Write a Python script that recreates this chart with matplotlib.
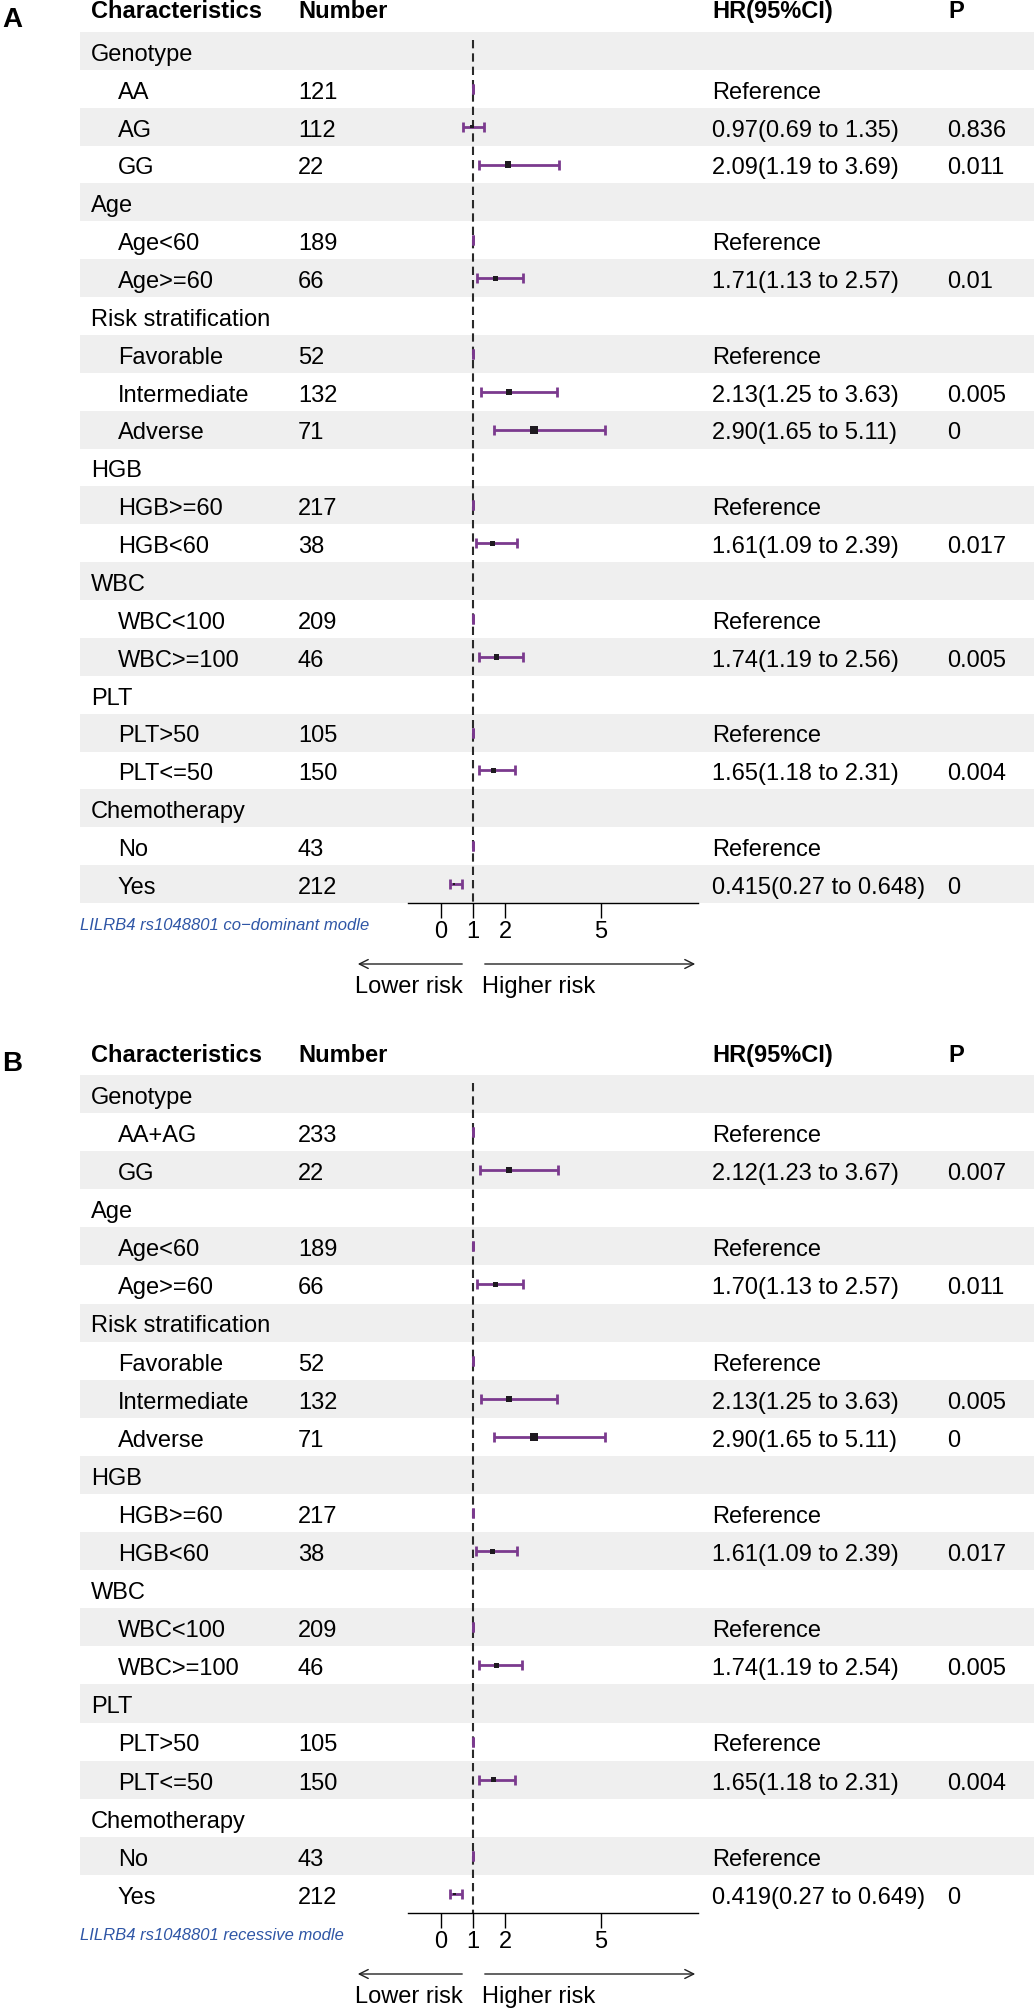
import matplotlib
matplotlib.use('Agg')
import matplotlib.pyplot as plt
import numpy as np

plt.rcParams['font.family'] = ['Liberation Sans', 'DejaVu Sans']

# ---- data: panel A (co-dominant model) ----
labels_a = ["Genotype", "AA", "AG", "GG", "Age", "Age<60", "Age>=60",
            "Risk stratification", "Favorable", "Intermediate", "Adverse",
            "HGB", "HGB>=60", "HGB<60", "WBC", "WBC<100", "WBC>=100",
            "PLT", "PLT>50", "PLT<=50", "Chemotherapy", "No", "Yes"]
number_a = ["", "121", "112", "22", "", "189", "66", "", "52", "132", "71",
            "", "217", "38", "", "209", "46", "", "105", "150", "", "43", "212"]
hr_a = [None, 1, 0.97, 2.09, None, 1, 1.71, None, 1, 2.13, 2.90,
        None, 1, 1.61, None, 1, 1.74, None, 1, 1.65, None, 1, 0.415]
lo_a = [None, 1, 0.69, 1.19, None, 1, 1.13, None, 1, 1.25, 1.65,
        None, 1, 1.09, None, 1, 1.19, None, 1, 1.18, None, 1, 0.27]
hi_a = [None, 1, 1.35, 3.69, None, 1, 2.57, None, 1, 3.63, 5.11,
        None, 1, 2.39, None, 1, 2.56, None, 1, 2.31, None, 1, 0.648]
hrtxt_a = ["", "Reference", "0.97(0.69 to 1.35)", "2.09(1.19 to 3.69)", "",
           "Reference", "1.71(1.13 to 2.57)", "", "Reference",
           "2.13(1.25 to 3.63)", "2.90(1.65 to 5.11)", "", "Reference",
           "1.61(1.09 to 2.39)", "", "Reference", "1.74(1.19 to 2.56)", "",
           "Reference", "1.65(1.18 to 2.31)", "", "Reference",
           "0.415(0.27 to 0.648)"]
p_a = ["", "", "0.836", "0.011", "", "", "0.01", "", "", "0.005", "0",
       "", "", "0.017", "", "", "0.005", "", "", "0.004", "", "", "0"]

# ---- data: panel B (recessive model) ----
labels_b = ["Genotype", "AA+AG", "GG", "Age", "Age<60", "Age>=60",
            "Risk stratification", "Favorable", "Intermediate", "Adverse",
            "HGB", "HGB>=60", "HGB<60", "WBC", "WBC<100", "WBC>=100",
            "PLT", "PLT>50", "PLT<=50", "Chemotherapy", "No", "Yes"]
number_b = ["", "233", "22", "", "189", "66", "", "52", "132", "71",
            "", "217", "38", "", "209", "46", "", "105", "150", "", "43", "212"]
hr_b = [None, 1, 2.12, None, 1, 1.70, None, 1, 2.13, 2.90,
        None, 1, 1.61, None, 1, 1.74, None, 1, 1.65, None, 1, 0.419]
lo_b = [None, 1, 1.23, None, 1, 1.13, None, 1, 1.25, 1.65,
        None, 1, 1.09, None, 1, 1.19, None, 1, 1.18, None, 1, 0.27]
hi_b = [None, 1, 3.67, None, 1, 2.57, None, 1, 3.63, 5.11,
        None, 1, 2.39, None, 1, 2.54, None, 1, 2.31, None, 1, 0.649]
hrtxt_b = ["", "Reference", "2.12(1.23 to 3.67)", "", "Reference",
           "1.70(1.13 to 2.57)", "", "Reference", "2.13(1.25 to 3.63)",
           "2.90(1.65 to 5.11)", "", "Reference", "1.61(1.09 to 2.39)", "",
           "Reference", "1.74(1.19 to 2.54)", "", "Reference",
           "1.65(1.18 to 2.31)", "", "Reference", "0.419(0.27 to 0.649)"]
p_b = ["", "", "0.007", "", "", "0.011", "", "", "0.005", "0",
       "", "", "0.017", "", "", "0.005", "", "", "0.004", "", "", "0"]

xticks = [0, 1, 2, 5]

W, H = 1034, 2010
fig = plt.figure(figsize=(W / 100, H / 100), dpi=100)

shade = '#efefef'
purple = '#7b3a8e'
blue = '#2f56a6'
fs = 17


def fy(y):
    return 1 - y / H


def box(x0, y0, x1, y1):
    return [x0 / W, 1 - y1 / H, (x1 - x0) / W, (y1 - y0) / H]


def panel(tag, head_base, top, bottom, labels, numbers, hr, lo, hi, hrtxt, pvals, note):
    n = len(labels)
    # table part
    tb = fig.add_axes(box(0, top, W, bottom))
    tb.set_xlim(0, W)
    tb.set_ylim(n - 0.5, -0.5)
    tb.axis('off')
    for i in range(0, n, 2):
        tb.axhspan(i - 0.5, i + 0.5, xmin=80 / W, xmax=1, color=shade, lw=0)
    for i in range(n):
        y = i + 0.26
        if numbers[i] == "":
            tb.text(91, y, labels[i], fontsize=fs, va='baseline')
        else:
            tb.text(118, y, labels[i], fontsize=fs, va='baseline')
            tb.text(298, y, numbers[i], fontsize=fs, va='baseline')
        tb.text(712, y, hrtxt[i], fontsize=fs, va='baseline')
        tb.text(947, y, pvals[i], fontsize=fs, va='baseline')

    # headers
    fig.text(2 / W, fy(head_base + 9), tag, fontsize=20, fontweight='bold', va='baseline')
    for x, t in [(91, "Characteristics"), (298, "Number"), (712, "HR(95%CI)"), (948, "P")]:
        fig.text(x / W, fy(head_base), t, fontsize=fs, fontweight='bold', va='baseline')

    # forest part
    ax = fig.add_axes(box(408, top, 698, bottom))
    ax.patch.set_alpha(0)
    ax.set_xlim(-1.03, 8.03)
    ax.set_ylim(n - 0.5, -0.5)
    for s in ['left', 'right', 'top']:
        ax.spines[s].set_visible(False)
    ax.spines['bottom'].set_linewidth(1.0)
    ax.set_yticks([])
    ax.set_xticks(xticks)
    ax.tick_params(axis='x', length=10.8, width=1.0, pad=2.5, labelsize=fs)

    ax.vlines(1, -0.3, n - 0.5, colors='#2a2a2a', linestyles=(0, (4.0, 2.4)), lw=1.5, zorder=1)

    rows = [i for i in range(n) if hr[i] is not None]
    h = np.array([hr[i] for i in rows])
    l = np.array([lo[i] for i in rows])
    u = np.array([hi[i] for i in rows])
    ax.errorbar(h, rows, xerr=[h - l, u - h], fmt='none', ecolor=purple,
                elinewidth=2.0, capsize=3.8, capthick=2.0, zorder=2)
    est = [k for k in range(len(rows)) if u[k] > l[k]]
    side = (2.2 * h[est] + 1.5) * 0.72
    ax.scatter(h[est], np.array(rows)[est], s=side ** 2, marker='s',
               color='#1e1a20', zorder=3, linewidths=0)

    # note and arrows below the axis
    fig.text(80 / W, fy(bottom + 27), note, fontsize=12, style='italic', color=blue, va='baseline')
    ya = fy(bottom + 61)
    fig.add_artist(matplotlib.patches.FancyArrowPatch((465 / W, ya), (355 / W, ya),
                   transform=fig.transFigure, arrowstyle='->', mutation_scale=16, lw=1.0, color='#222222'))
    fig.add_artist(matplotlib.patches.FancyArrowPatch((482 / W, ya), (698 / W, ya),
                   transform=fig.transFigure, arrowstyle='->', mutation_scale=16, lw=1.0, color='#222222'))
    fig.text(355 / W, fy(bottom + 90), "Lower risk", fontsize=fs, va='baseline')
    fig.text(482 / W, fy(bottom + 90), "Higher risk", fontsize=fs, va='baseline')


panel("A", 18, 32, 903, labels_a, number_a, hr_a, lo_a, hi_a, hrtxt_a, p_a,
      "LILRB4 rs1048801 co\u2212dominant modle")
panel("B", 1062, 1075, 1913, labels_b, number_b, hr_b, lo_b, hi_b, hrtxt_b, p_b,
      "LILRB4 rs1048801 recessive modle")

fig.savefig('out.png', dpi=100)
